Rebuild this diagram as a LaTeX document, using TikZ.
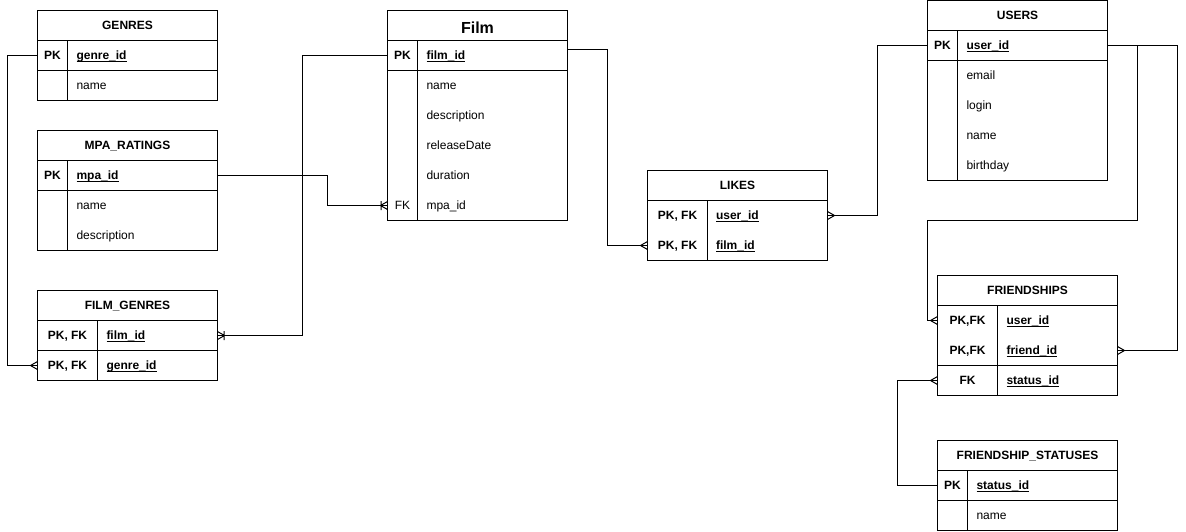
\documentclass[tikz,border=0pt]{standalone}
\usepackage{fontspec}
\setmainfont{Liberation Sans}
\usepackage{tikz}

% crow's foot tips for the relations
\pgfdeclarearrow{
  name = crow,
  setup code = {
    \pgfarrowssettipend{0pt}
    \pgfarrowssetlineend{0pt}
    \pgfarrowssetbackend{-7pt}
    \pgfarrowshullpoint{0pt}{4pt}
    \pgfarrowshullpoint{0pt}{-4pt}
    \pgfarrowshullpoint{-7pt}{0pt}
  },
  drawing code = {
    \pgfpathmoveto{\pgfqpoint{0pt}{4pt}}
    \pgfpathlineto{\pgfqpoint{-7pt}{0pt}}
    \pgfpathlineto{\pgfqpoint{0pt}{-4pt}}
    \pgfusepathqstroke
  }
}
\pgfdeclarearrow{
  name = crowbar,
  setup code = {
    \pgfarrowssettipend{0pt}
    \pgfarrowssetlineend{0pt}
    \pgfarrowssetbackend{-7pt}
    \pgfarrowshullpoint{0pt}{4.5pt}
    \pgfarrowshullpoint{0pt}{-4.5pt}
    \pgfarrowshullpoint{-7pt}{4.5pt}
    \pgfarrowshullpoint{-7pt}{-4.5pt}
  },
  drawing code = {
    \pgfpathmoveto{\pgfqpoint{0pt}{4pt}}
    \pgfpathlineto{\pgfqpoint{-7pt}{0pt}}
    \pgfpathlineto{\pgfqpoint{0pt}{-4pt}}
    \pgfpathmoveto{\pgfqpoint{-6.5pt}{4.5pt}}
    \pgfpathlineto{\pgfqpoint{-6.5pt}{-4.5pt}}
    \pgfusepathqstroke
  }
}

\newcommand{\pkey}[1]{\textbf{\underline{\smash{#1}}}}

\tikzset{
  txt/.style   = {font=\fontsize{12}{14}\selectfont, inner sep=0pt,
                  text height=8.6pt, text depth=0pt},
  head/.style  = {draw, txt, font=\fontsize{12}{14}\selectfont\bfseries,
                  minimum width=180pt, minimum height=30pt},
  row/.style   = {minimum width=180pt, minimum height=30pt,
                  inner sep=0pt, outer sep=0pt},
  key/.style   = {txt, font=\fontsize{12}{14}\selectfont\bfseries},
  field/.style = {txt, anchor=west},
  rel/.style   = {line width=1pt},
}

\begin{document}
\begin{tikzpicture}[x=1pt, y=-1pt, line width=1pt]

  \path[fill=white] (0,0) rectangle (1186,531);

  % GENRES
  \node[head] (genres)    at (127.5,25.5) {GENRES};
  \node[row]  (genres-r1) at (127.5,55.5) {};
  \node[row]  (genres-r2) at (127.5,85.5) {};
  \draw (genres-r1.north west) rectangle (genres-r2.south east);
  \draw (genres-r1.south west) -- (genres-r1.south east);
  \draw ([xshift=30pt]genres-r1.north west) -- ([xshift=30pt]genres-r2.south west);
  \node[key]   (genres-k1) at (52.5,55.5) {PK};
  \node[field] (genres-f1) at (76,55.5)   {\pkey{genre\_id}};
  \node[field] (genres-f2) at (76,85.5)   {name};

  % MPA_RATINGS
  \node[head] (mpa)    at (127.5,145.5) {MPA\_RATINGS};
  \node[row]  (mpa-r1) at (127.5,175.5) {};
  \node[row]  (mpa-r2) at (127.5,205.5) {};
  \node[row]  (mpa-r3) at (127.5,235.5) {};
  \draw (mpa-r1.north west) rectangle (mpa-r3.south east);
  \draw (mpa-r1.south west) -- (mpa-r1.south east);
  \draw ([xshift=30pt]mpa-r1.north west) -- ([xshift=30pt]mpa-r3.south west);
  \node[key]   (mpa-k1) at (52.5,175.5) {PK};
  \node[field] (mpa-f1) at (76,175.5)   {\pkey{mpa\_id}};
  \node[field] (mpa-f2) at (76,205.5)   {name};
  \node[field] (mpa-f3) at (76,235.5)   {description};

  % FILM_GENRES
  \node[head] (filmgenres)    at (127.5,305.5) {FILM\_GENRES};
  \node[row]  (filmgenres-r1) at (127.5,335.5) {};
  \node[row]  (filmgenres-r2) at (127.5,365.5) {};
  \draw (filmgenres-r1.north west) rectangle (filmgenres-r2.south east);
  \draw (filmgenres-r1.south west) -- (filmgenres-r1.south east);
  \draw ([xshift=60pt]filmgenres-r1.north west) -- ([xshift=60pt]filmgenres-r2.south west);
  \node[key]   (filmgenres-k1) at (67.5,335.5) {PK, FK};
  \node[key]   (filmgenres-k2) at (67.5,365.5) {PK, FK};
  \node[field] (filmgenres-f1) at (106,335.5)  {\pkey{film\_id}};
  \node[field] (filmgenres-f2) at (106,365.5)  {\pkey{genre\_id}};

  % Film
  \node[head, font=\fontsize{16}{18}\selectfont\bfseries, text height=16.5pt] (film) at (477.5,25.5) {Film};
  \node[row]  (film-r1) at (477.5,55.5)  {};
  \node[row]  (film-r2) at (477.5,85.5)  {};
  \node[row]  (film-r3) at (477.5,115.5) {};
  \node[row]  (film-r4) at (477.5,145.5) {};
  \node[row]  (film-r5) at (477.5,175.5) {};
  \node[row]  (film-r6) at (477.5,205.5) {};
  \draw (film-r1.north west) rectangle (film-r6.south east);
  \draw (film-r1.south west) -- (film-r1.south east);
  \draw ([xshift=30pt]film-r1.north west) -- ([xshift=30pt]film-r6.south west);
  \node[key]   (film-k1) at (402.5,55.5)  {PK};
  \node[key, font=\fontsize{12}{14}\selectfont] (film-k6) at (402.5,205.5) {FK};
  \node[field] (film-f1) at (426,55.5)    {\pkey{film\_id}};
  \node[field] (film-f2) at (426,85.5)    {name};
  \node[field] (film-f3) at (426,115.5)   {description};
  \node[field] (film-f4) at (426,145.5)   {releaseDate};
  \node[field] (film-f5) at (426,175.5)   {duration};
  \node[field] (film-f6) at (426,205.5)   {mpa\_id};

  % LIKES
  \node[head] (likes)    at (737.5,185.5) {LIKES};
  \node[row]  (likes-r1) at (737.5,215.5) {};
  \node[row]  (likes-r2) at (737.5,245.5) {};
  \draw (likes-r1.north west) rectangle (likes-r2.south east);
  \draw ([xshift=60pt]likes-r1.north west) -- ([xshift=60pt]likes-r2.south west);
  \node[key]   (likes-k1) at (677.5,215.5) {PK, FK};
  \node[key]   (likes-k2) at (677.5,245.5) {PK, FK};
  \node[field] (likes-f1) at (715.5,215.5) {\pkey{user\_id}};
  \node[field] (likes-f2) at (715.5,245.5) {\pkey{film\_id}};

  % USERS
  \node[head] (users)    at (1017.5,15.5) {USERS};
  \node[row]  (users-r1) at (1017.5,45.5)  {};
  \node[row]  (users-r2) at (1017.5,75.5)  {};
  \node[row]  (users-r3) at (1017.5,105.5) {};
  \node[row]  (users-r4) at (1017.5,135.5) {};
  \node[row]  (users-r5) at (1017.5,165.5) {};
  \draw (users-r1.north west) rectangle (users-r5.south east);
  \draw (users-r1.south west) -- (users-r1.south east);
  \draw ([xshift=30pt]users-r1.north west) -- ([xshift=30pt]users-r5.south west);
  \node[key]   (users-k1) at (942.5,45.5) {PK};
  \node[field] (users-f1) at (966,45.5)   {\pkey{user\_id}};
  \node[field] (users-f2) at (966,75.5)   {email};
  \node[field] (users-f3) at (966,105.5)  {login};
  \node[field] (users-f4) at (966,135.5)  {name};
  \node[field] (users-f5) at (966,165.5)  {birthday};

  % FRIENDSHIPS
  \node[head] (friend)    at (1027.5,290.5) {FRIENDSHIPS};
  \node[row]  (friend-r1) at (1027.5,320.5) {};
  \node[row]  (friend-r2) at (1027.5,350.5) {};
  \node[row]  (friend-r3) at (1027.5,380.5) {};
  \draw (friend-r1.north west) rectangle (friend-r3.south east);
  \draw (friend-r2.south west) -- (friend-r2.south east);
  \draw ([xshift=60pt]friend-r1.north west) -- ([xshift=60pt]friend-r3.south west);
  \node[key]   (friend-k1) at (967.5,320.5) {PK,FK};
  \node[key]   (friend-k2) at (967.5,350.5) {PK,FK};
  \node[key]   (friend-k3) at (967.5,380.5) {FK};
  \node[field] (friend-f1) at (1006,320.5)  {\pkey{user\_id}};
  \node[field] (friend-f2) at (1006,350.5)  {\pkey{friend\_id}};
  \node[field] (friend-f3) at (1006,380.5)  {\pkey{status\_id}};

  % FRIENDSHIP_STATUSES
  \node[head] (status)    at (1027.5,455.5) {FRIENDSHIP\_STATUSES};
  \node[row]  (status-r1) at (1027.5,485.5) {};
  \node[row]  (status-r2) at (1027.5,515.5) {};
  \draw (status-r1.north west) rectangle (status-r2.south east);
  \draw (status-r1.south west) -- (status-r1.south east);
  \draw ([xshift=30pt]status-r1.north west) -- ([xshift=30pt]status-r2.south west);
  \node[key]   (status-k1) at (952.5,485.5) {PK};
  \node[field] (status-f1) at (976,485.5)   {\pkey{status\_id}};
  \node[field] (status-f2) at (976,515.5)   {name};

  % relations
  \draw[rel, -crow]    (genres-r1.west) -- ++(-30,0) |- (filmgenres-r2.west);
  \draw[rel, -crowbar] (film-r1.west) -- ++(-85,0) |- (filmgenres-r1.east);
  \draw[rel, -crowbar] (mpa-r1.east) -- ++(110,0) |- (film-r6.west);
  \draw[rel, -crow]    ([yshift=6.5pt]film-r1.east) -- ++(40,0) |- (likes-r2.west);
  \draw[rel, -crow]    (users-r1.west) -- ++(-50,0) |- (likes-r1.east);
  \draw[rel, -crow]    (users-r1.east) -- ++(30,0) -- ++(0,175) -- ++(-210,0) |- (friend-r1.west);
  \draw[rel, -crow]    (users-r1.east) -- ++(70,0) |- (friend-r2.east);
  \draw[rel, -crow]    (status-r1.west) -- ++(-40,0) |- (friend-r3.west);

\end{tikzpicture}
\end{document}
